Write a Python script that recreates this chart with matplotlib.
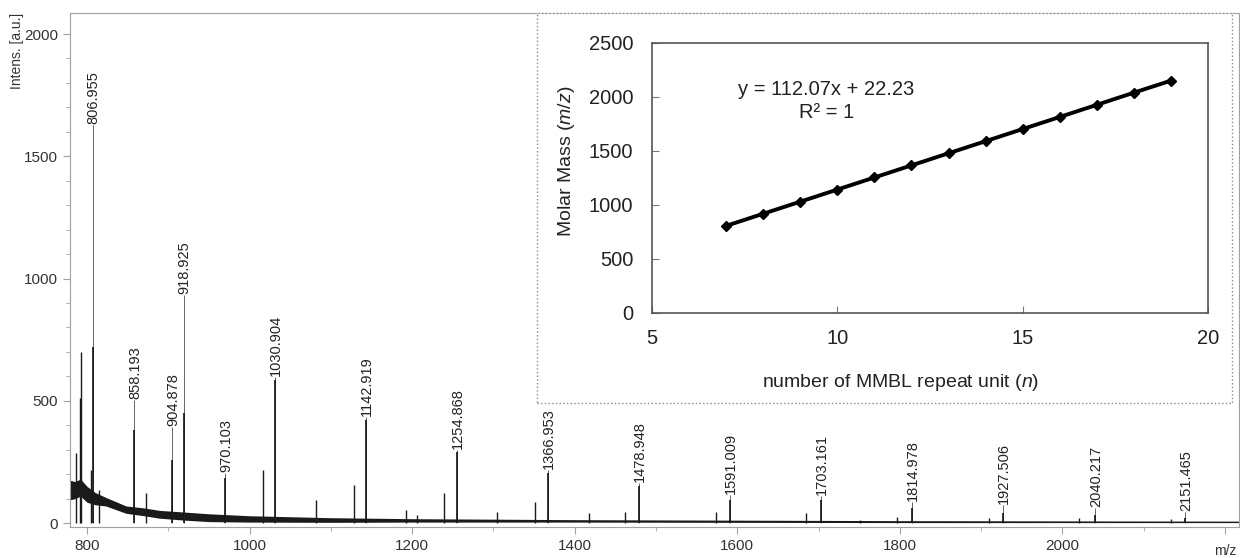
import numpy as np
import matplotlib.pyplot as plt
from matplotlib.patches import Rectangle
from matplotlib.ticker import MultipleLocator

plt.rcParams['font.family'] = ['Liberation Sans', 'DejaVu Sans']
plt.rcParams['mathtext.fontset'] = 'custom'
plt.rcParams['mathtext.it'] = 'Liberation Sans:italic'
plt.rcParams['mathtext.rm'] = 'Liberation Sans'

# labelled peaks of the spectrum (m/z, tip height, height of the broad base)
peak_mz = [806.955, 858.193, 904.878, 918.925, 970.103, 1030.904, 1142.919,
           1254.868, 1366.953, 1478.948, 1591.009, 1703.161, 1814.978,
           1927.506, 2040.217, 2151.465]
peak_tip = [1630, 503, 393, 933, 204, 597, 434, 299, 217, 164, 115, 110,
            86, 74, 61, 45]
peak_core = [720, 380, 258, 450, 184, 585, 421, 290, 205, 150, 95, 95,
             61, 41, 33, 20]

# unlabelled side peaks
minor_mz = [786.5, 791.4, 792.6, 804.5, 814.5, 872, 1016, 1082, 1128, 1192,
            1206, 1239, 1304, 1351, 1417, 1462, 1574, 1685, 1751, 1797,
            1910, 2021, 2134]
minor_h = [286, 511, 700, 217, 135, 122, 217, 94, 155, 53, 35, 123, 45, 86,
           41, 45, 45, 41, 12, 25, 20, 20, 15]

# noise band of the baseline
base_mz = [779, 785, 792, 800, 810, 823, 848, 870, 889, 920, 950, 1000,
           1100, 1200, 1400, 1600, 1800, 2000, 2217]
base_lo = [95, 100, 110, 85, 75, 70, 40, 30, 20, 12, 6, 4, 3, 4, 4, 3, 2, 2, 2]
base_hi = [175, 170, 180, 150, 125, 105, 70, 62, 52, 45, 38, 30, 22, 18,
           14, 12, 10, 9, 8]

x_ticks = [800, 1000, 1200, 1400, 1600, 1800, 2000, 2200]
x_labels = ['800', '1000', '1200', '1400', '1600', '1800', '2000', '']

# inset calibration: repeat unit n vs m/z
n_units = [7, 8, 9, 10, 11, 12, 13, 14, 15, 16, 17, 18, 19]
molar_mass = peak_mz[:1] + peak_mz[3:4] + peak_mz[5:]

fig = plt.figure(figsize=(12.4, 5.58), dpi=100)
ax = fig.add_axes([70/1240, 31/558, 1 - 70/1240 - 0.001, (527-13)/558])

grey = '#a0a0a0'
ax.fill_between(base_mz, base_lo, base_hi, color='#1a1a1a', lw=0)
ax.vlines(minor_mz, 0, minor_h, color='#1a1a1a', lw=1.0)
ax.vlines(peak_mz, 0, peak_tip, color='#666666', lw=0.7)
ax.vlines(peak_mz, 0, peak_core, color='#111111', lw=1.2)
for mz, h in zip(peak_mz, peak_tip):
    ax.text(mz + 1, h + 4, f'{mz:.3f}', rotation=90, ha='center',
            va='bottom', fontsize=10.5, color='#222222')

ax.set_xlim(779, 2217)
ax.set_ylim(-16, 2086)
ax.set_xticks(x_ticks)
ax.set_xticklabels(x_labels)
ax.xaxis.set_minor_locator(MultipleLocator(100))
ax.yaxis.set_major_locator(MultipleLocator(500))
ax.yaxis.set_minor_locator(MultipleLocator(100))
for s in ax.spines.values():
    s.set_color(grey)
ax.tick_params(which='both', direction='out', color=grey, labelsize=11,
               labelcolor='#333333')
ax.tick_params(which='major', length=5)
ax.tick_params(which='minor', length=3)

fig.text(17/1240, 1 - 13/558, 'Intens. [a.u.]', rotation=90, ha='center',
         va='top', fontsize=10, color='#333333')
fig.text(1225/1240, 1 - 551/558, 'm/z', ha='center', va='center',
         fontsize=10, color='#333333')

# inset frame
fig.add_artist(Rectangle((537/1240, 1 - 403/558), (1232-537)/1240,
                         (403-13)/558, transform=fig.transFigure,
                         fc='white', ec='#8a8a8a', ls=':', lw=1.0, zorder=1))

ins = fig.add_axes([652/1240, 1 - 313/558, (1208-652)/1240, (313-43)/558],
                   zorder=2)
ins.plot(n_units, molar_mass, color='black', lw=2.8, marker='D', ms=5)
ins.set_xlim(5, 20)
ins.set_ylim(0, 2500)
ins.set_xticks([5, 10, 15, 20])
ins.set_yticks(range(0, 2501, 500))
for s in ins.spines.values():
    s.set_color('#555555')
    s.set_linewidth(1.2)
ins.tick_params(direction='in', length=5, color='#777777', labelsize=14.5,
                labelcolor='#222222')
ins.tick_params(axis='y', pad=13.5)
ins.tick_params(axis='x', pad=11.5)
ins.set_xlabel('number of MMBL repeat unit ($\\it{n}$)', fontsize=14,
               color='#222222', va='center')
ins.xaxis.set_label_coords(0.447, -0.256)
ins.set_ylabel('Molar Mass ($\\it{m/z}$)', fontsize=14, color='#222222',
               va='center')
ins.yaxis.set_label_coords(-0.153, 0.563)
ins.text(9.7, 2074, 'y = 112.07x + 22.23', ha='center', va='center',
         fontsize=14.5, color='#222222')
ins.text(9.7, 1861, 'R² = 1', ha='center', va='center', fontsize=14.5,
         color='#222222')

fig.savefig('out.png', dpi=100)
